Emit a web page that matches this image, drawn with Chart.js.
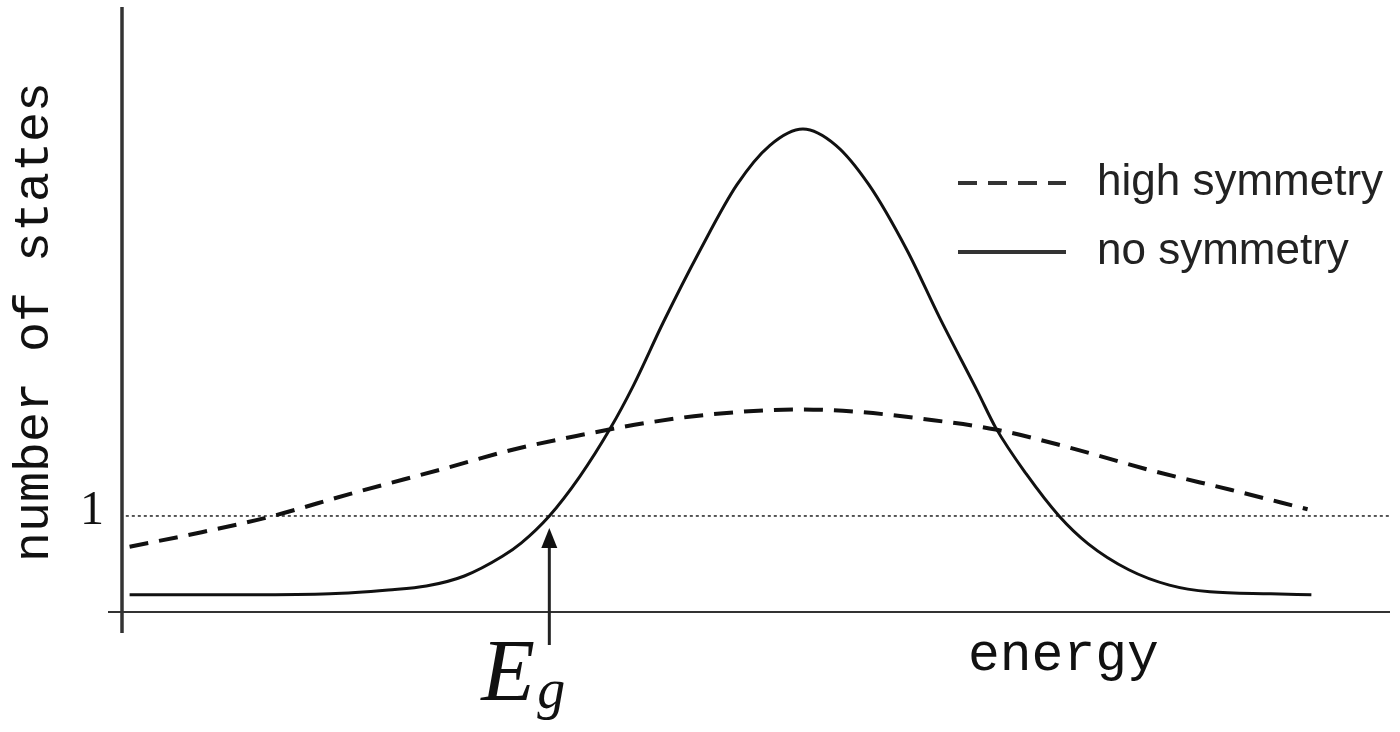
<!DOCTYPE html>
<html>
<head>
<meta charset="utf-8">
<script src="https://cdn.jsdelivr.net/npm/chart.js@4.4.1/dist/chart.umd.min.js"></script>
<style>
  html, body { margin: 0; padding: 0; background: #fff; }
  #wrap { width: 1400px; height: 732px; }
</style>
</head>
<body>
<div id="wrap"><canvas id="dos" width="1400" height="732"></canvas></div>
<script>
// energy runs 0..100 (arbitrary units), number of states 0..6.3
const noSymE = [0.6, 10.1, 16.4, 21, 24, 27, 30, 31.5, 33.7, 36.1, 38.5, 40.3, 42.7, 45.6, 48.5, 51.1,
  53.7, 56.3, 58.9, 61.9, 64.5, 67.5, 68.9, 71.3, 73.9, 76.2, 79.4, 82.6, 85.8, 90.6, 93.8];
const noSymN = [0.18, 0.18, 0.19, 0.23, 0.27, 0.375, 0.58, 0.72, 1.0, 1.41, 1.91, 2.35, 3.02, 3.77, 4.45, 4.86,
  5.03, 4.86, 4.45, 3.77, 3.06, 2.29, 1.92, 1.44, 1.0, 0.71, 0.44, 0.28, 0.21, 0.19, 0.18];
const highSymE = [0.6, 5.9, 11.6, 18, 25.6, 30.8, 36.1, 41.4, 46.6, 53.6, 58.4, 63.2, 68.9, 74.5, 81, 87.5, 93.5];
const highSymN = [0.68, 0.82, 0.99, 1.23, 1.5, 1.69, 1.84, 1.97, 2.06, 2.11, 2.08, 2.01, 1.9, 1.72, 1.48, 1.27, 1.07];
const refLevel = 1;        // dotted line, tick "1"
const gapEnergy = 33.7;    // E_g: no-symmetry curve crosses 1
const seriesLabels = ["high symmetry", "no symmetry"];
const yTickLabel = "1";
const xTitle = "energy";
const yTitle = "number of states";

const pts = (xs, ys) => xs.map((x, i) => ({ x, y: ys[i] }));

const decor = {
  id: "decor",
  beforeDatasetsDraw(chart) {
    const { ctx, chartArea: a } = chart;
    ctx.save();
    ctx.strokeStyle = "#333";
    ctx.lineWidth = 3.5;
    ctx.beginPath(); ctx.moveTo(a.left, 7); ctx.lineTo(a.left, a.bottom + 21); ctx.stroke();
    ctx.lineWidth = 2;
    ctx.beginPath(); ctx.moveTo(a.left - 14, a.bottom); ctx.lineTo(a.right, a.bottom); ctx.stroke();
    ctx.restore();
  },
  afterDatasetsDraw(chart) {
    const { ctx, chartArea: a } = chart;
    const xs = chart.scales.x, ys = chart.scales.y;
    ctx.save();
    ctx.fillStyle = "#111";

    // arrow up to E_g
    const ax = xs.getPixelForValue(gapEnergy);
    const tip = ys.getPixelForValue(refLevel) + 12;
    ctx.strokeStyle = "#222";
    ctx.lineWidth = 3;
    ctx.beginPath(); ctx.moveTo(ax, a.bottom + 33); ctx.lineTo(ax, tip + 14); ctx.stroke();
    ctx.beginPath(); ctx.moveTo(ax, tip); ctx.lineTo(ax - 8, tip + 20); ctx.lineTo(ax + 8, tip + 20);
    ctx.closePath(); ctx.fill();

    // tick label "1"
    ctx.textAlign = "center";
    ctx.textBaseline = "alphabetic";
    ctx.font = "48px 'Liberation Serif'";
    ctx.fillText(yTickLabel, 92, ys.getPixelForValue(refLevel) + 8);

    // axis titles
    ctx.font = "50px 'Liberation Mono'";
    ctx.save();
    ctx.translate(48, 322);
    ctx.rotate(-Math.PI / 2);
    ctx.fillText(yTitle, 0, 0);
    ctx.restore();
    ctx.textAlign = "left";
    ctx.font = "53px 'Liberation Mono'";
    ctx.fillText(xTitle, 968, 670);

    // E_g
    ctx.font = "italic 88px 'Liberation Serif'";
    ctx.fillText("E", ax - 68, 700);
    ctx.font = "italic 56px 'Liberation Serif'";
    ctx.fillText("g", ax - 12, 708);

    // legend
    ctx.font = "44px 'Liberation Sans'";
    const rows = [183, 252];
    seriesLabels.forEach((lab, i) => {
      const ds = chart.data.datasets[i];
      ctx.strokeStyle = "#333";
      ctx.lineWidth = 4;
      ctx.setLineDash(ds.borderDash || []);
      ctx.beginPath(); ctx.moveTo(958, rows[i]); ctx.lineTo(1066, rows[i]); ctx.stroke();
      ctx.setLineDash([]);
      ctx.fillStyle = "#222";
      ctx.fillText(lab, 1097, rows[i] + 12);
    });
    ctx.restore();
  }
};

new Chart(document.getElementById("dos"), {
  type: "line",
  data: {
    datasets: [
      {
        label: seriesLabels[0],
        data: pts(highSymE, highSymN),
        borderColor: "#111",
        borderWidth: 4,
        borderDash: [19, 11],
        cubicInterpolationMode: "monotone",
      },
      {
        label: seriesLabels[1],
        data: pts(noSymE, noSymN),
        borderColor: "#111",
        borderWidth: 3,
        cubicInterpolationMode: "monotone",
      },
      {
        label: "ref",
        data: pts([0.3, 100], [refLevel, refLevel]),
        borderColor: "#222",
        borderWidth: 1.5,
        borderDash: [3, 3],
      },
    ],
  },
  options: {
    responsive: false,
    animation: false,
    devicePixelRatio: 1,
    layout: { padding: { left: 122, right: 10, top: 7, bottom: 120 } },
    plugins: { legend: { display: false }, tooltip: { enabled: false } },
    elements: { point: { radius: 0 } },
    scales: {
      x: { type: "linear", min: 0, max: 100, display: false },
      y: { min: 0, max: 6.3, display: false },
    },
  },
  plugins: [decor],
});
</script>
</body>
</html>
